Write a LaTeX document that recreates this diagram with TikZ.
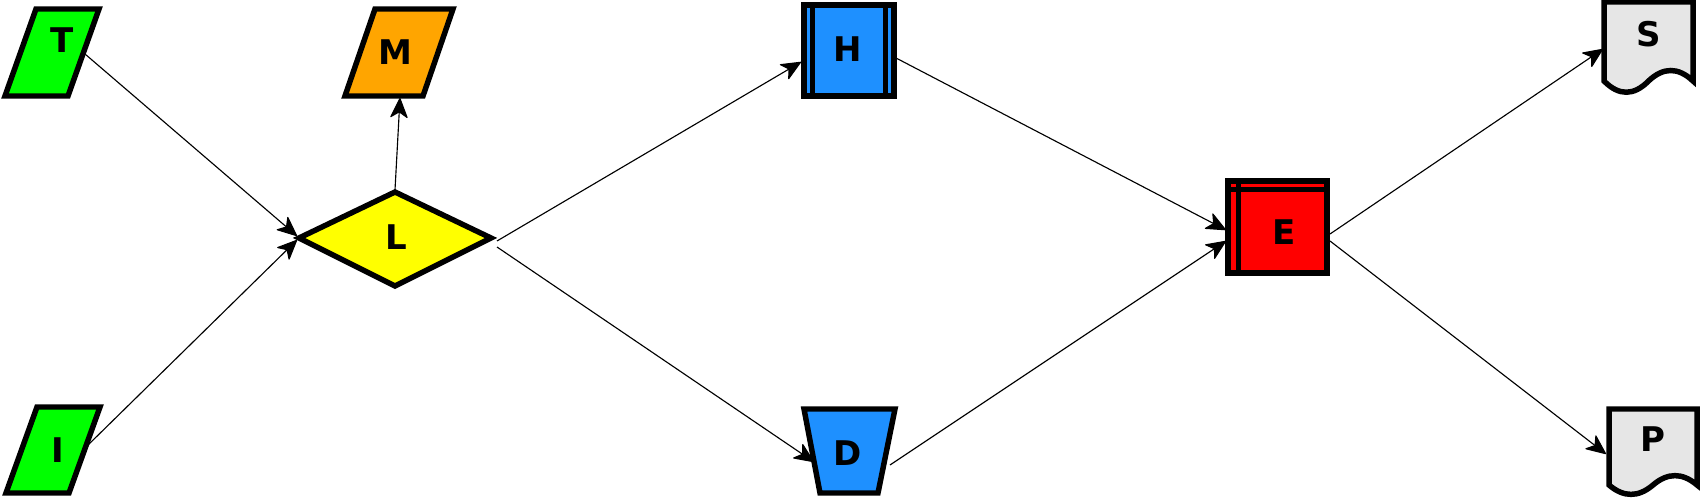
\documentclass[tikz,border=0pt]{standalone}
\usepackage{fontspec}
\setmainfont{DejaVu Sans}
\usetikzlibrary{arrows.meta}
\definecolor{cgreen}{RGB}{0,255,0}
\definecolor{corange}{RGB}{255,165,0}
\definecolor{cyellow}{RGB}{255,255,0}
\definecolor{cblue}{RGB}{30,144,255}
\definecolor{cred}{RGB}{255,0,0}
\definecolor{cgray}{RGB}{230,230,230}
\begin{document}
\begin{tikzpicture}[x=0.75pt,y=-0.75pt,
  shapeline/.style={draw=black,line width=4.1pt},
  lbl/.style={inner sep=0pt,font=\fontsize{25.5}{30}\selectfont\bfseries},
  conn/.style={draw=black,line width=0.85pt,-{Stealth[length=16pt,width=14pt,inset=4.5pt,round]}}]
\useasboundingbox (0,0) rectangle (1703,502);
% T
\path[shapeline,fill=cgreen] (36,9) -- (99,9) -- (68,96) -- (5,96) -- cycle;
\node[lbl] (T) at (62,40) {T};
% I
\path[shapeline,fill=cgreen] (37,407) -- (100,407) -- (69,493) -- (6,493) -- cycle;
\node[lbl] (I) at (58,450) {I};
% M
\path[shapeline,fill=corange] (375,9) -- (453,9) -- (423,96) -- (345,96) -- cycle;
\node[lbl] (M) at (395,52) {M};
% L
\path[shapeline,fill=cyellow] (299,238) -- (395,192) -- (491,238) -- (395,286) -- cycle;
\node[lbl] (L) at (396,237) {L};
% H
\path[shapeline,fill=cblue] (804,5) rectangle (894,96);
\draw[shapeline] (812.5,5) -- (812.5,96) (885.5,5) -- (885.5,96);
\node[lbl] (H) at (848,49) {H};
% D
\path[shapeline,fill=cblue] (804,409) -- (895,409) -- (878,493) -- (820,493) -- cycle;
\node[lbl] (D) at (848,453) {D};
% E
\path[shapeline,fill=cred] (1228,181) rectangle (1327,273);
\draw[shapeline] (1238.5,181) -- (1238.5,273) (1228,189.5) -- (1327,189.5);
\node[lbl] (E) at (1284,232) {E};
% S
\path[shapeline,fill=cgray] (1604,2) -- (1693,2) -- (1693,81)
  .. controls (1678.17,67) and (1663.33,67) .. (1648.5,81)
  .. controls (1633.67,96) and (1618.83,96) .. (1604,81) -- cycle;
\node[lbl] (S) at (1649,34) {S};
% P
\path[shapeline,fill=cgray] (1609,409) -- (1697,409) -- (1697,485)
  .. controls (1682.33,472.5) and (1667.67,472.5) .. (1653,485)
  .. controls (1638.33,497.5) and (1623.67,497.5) .. (1609,485) -- cycle;
\node[lbl] (P) at (1653,439) {P};
% connector ports
\coordinate (T-out) at (85,54);
\coordinate (I-out) at (86,447);
\coordinate (L-in1) at (297,236);
\coordinate (L-in2) at (297,240);
\coordinate (L-top) at (395,190);
\coordinate (M-in) at (400,98);
\coordinate (L-out1) at (497,241);
\coordinate (L-out2) at (497,247);
\coordinate (H-in) at (801,62);
\coordinate (D-in) at (814,462);
\coordinate (H-out) at (896,58);
\coordinate (D-out) at (890,465);
\coordinate (E-in1) at (1226,230);
\coordinate (E-in2) at (1226,241);
\coordinate (E-out1) at (1330,234);
\coordinate (E-out2) at (1330,241);
\coordinate (S-in) at (1603,49);
\coordinate (P-in) at (1606,454);
% connectors
\draw[conn] (T-out) -- (L-in1);
\draw[conn] (I-out) -- (L-in2);
\draw[conn] (L-top) -- (M-in);
\draw[conn] (L-out1) -- (H-in);
\draw[conn] (L-out2) -- (D-in);
\draw[conn] (H-out) -- (E-in1);
\draw[conn] (D-out) -- (E-in2);
\draw[conn] (E-out1) -- (S-in);
\draw[conn] (E-out2) -- (P-in);
\end{tikzpicture}
\end{document}
